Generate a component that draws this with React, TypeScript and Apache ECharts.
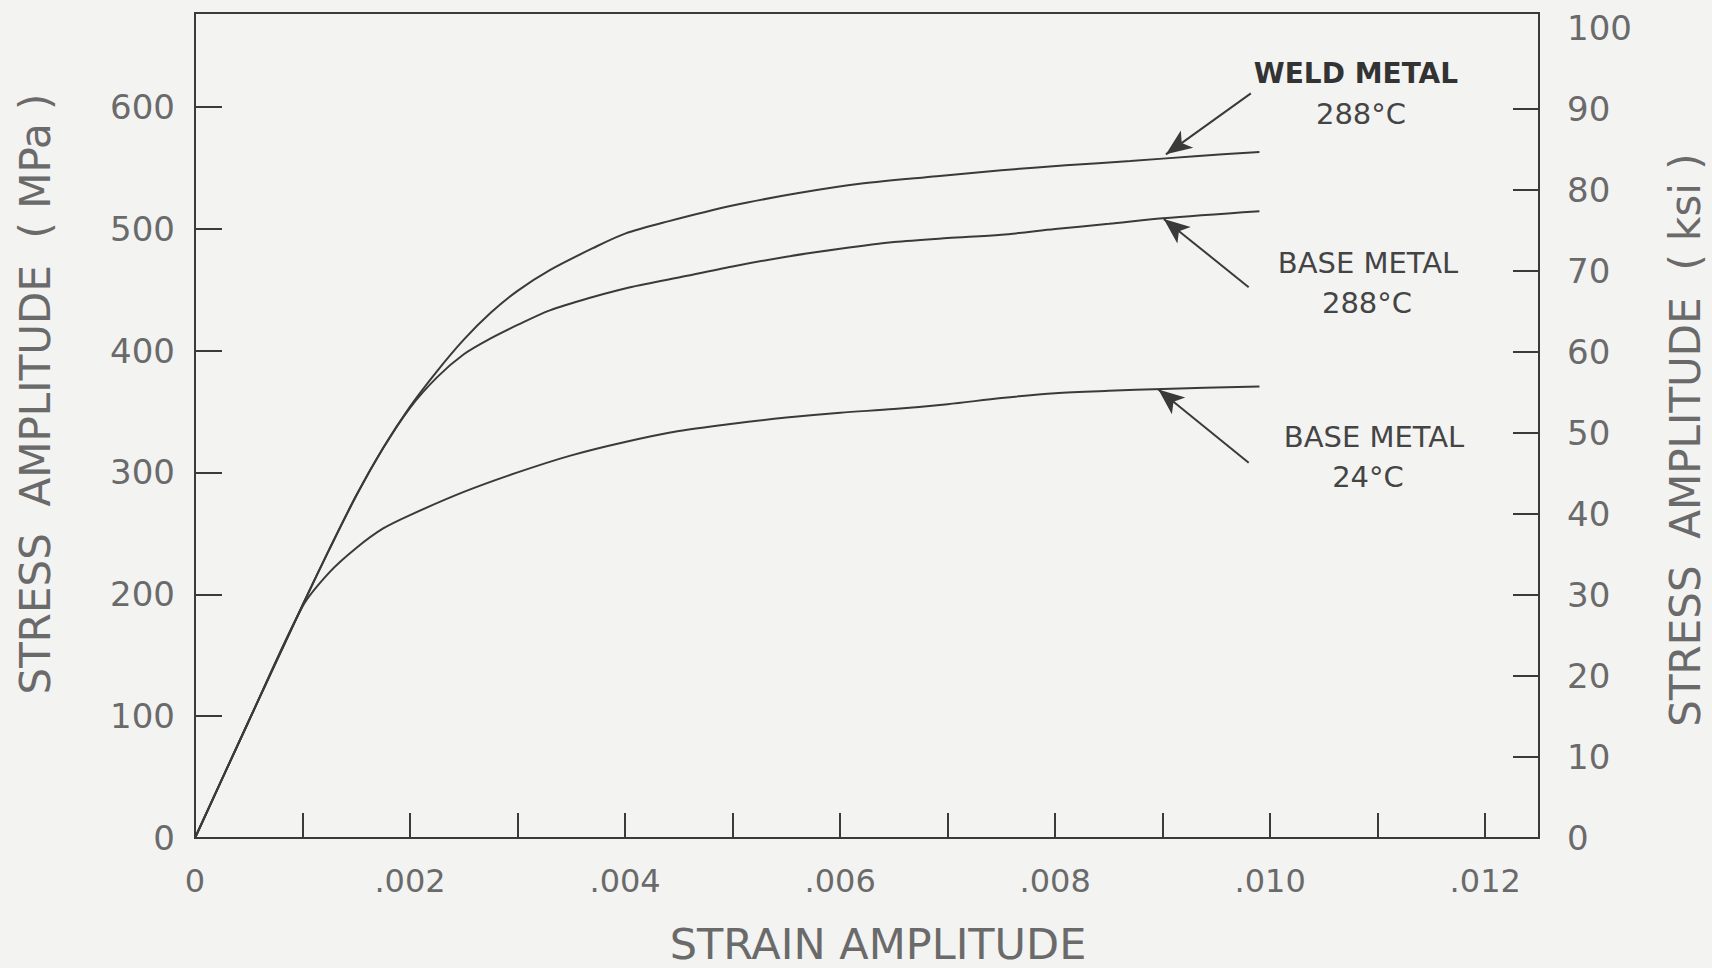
import React, { useEffect, useRef } from "react";
import * as echarts from "echarts";

// [strain amplitude, stress amplitude (MPa)]
const weldMetal288: [number, number][] = [
  [0, 0], [0.0005, 96], [0.001, 191], [0.00125, 237], [0.0015, 281], [0.00175, 320],
  [0.002, 354], [0.00225, 383], [0.0025, 409], [0.00275, 431], [0.003, 449],
  [0.0033, 466], [0.0037, 484], [0.004, 496], [0.0044, 506], [0.005, 519],
  [0.0056, 529], [0.0062, 537], [0.0069, 543], [0.0075, 548], [0.0081, 552],
  [0.0087, 555.5], [0.0093, 559.5], [0.0099, 563],
];
const baseMetal288: [number, number][] = [
  [0, 0], [0.0005, 96], [0.001, 191], [0.00125, 237], [0.0015, 281], [0.00175, 320],
  [0.002, 353], [0.00225, 378], [0.0025, 397], [0.00275, 410], [0.003, 421],
  [0.0033, 433], [0.0037, 444], [0.004, 451], [0.0045, 460], [0.005, 469],
  [0.0055, 477], [0.006, 483.5], [0.0065, 489], [0.007, 492.3], [0.0075, 495],
  [0.008, 499.7], [0.0085, 504], [0.009, 508.6], [0.0099, 514.4],
];
const baseMetal24: [number, number][] = [
  [0, 0], [0.0005, 96], [0.001, 190], [0.00125, 218], [0.0015, 238], [0.00175, 254],
  [0.002, 265], [0.0025, 284], [0.003, 300], [0.0035, 314], [0.004, 325],
  [0.0045, 334], [0.005, 340], [0.0055, 345], [0.006, 349], [0.0065, 352],
  [0.007, 356], [0.0075, 361], [0.008, 365], [0.0085, 367], [0.009, 368.5],
  [0.0099, 370.5],
];

// annotation arrows: [tail, tip] in data coordinates
const weldArrow: [number, number][] = [[0.00982, 611], [0.00903, 561]];
const base288Arrow: [number, number][] = [[0.0098, 452], [0.00901, 508]];
const base24Arrow: [number, number][] = [[0.0098, 308], [0.00896, 368]];

const xTickValues = [0.001, 0.002, 0.003, 0.004, 0.005, 0.006, 0.007, 0.008, 0.009, 0.01, 0.011, 0.012];
const xLabelValues = [0, 0.002, 0.004, 0.006, 0.008, 0.01, 0.012];
const leftTickValues = [100, 200, 300, 400, 500, 600];
const leftLabelValues = [0, 100, 200, 300, 400, 500, 600];
const rightTickValues = [10, 20, 30, 40, 50, 60, 70, 80, 90];
const rightLabelValues = [0, 10, 20, 30, 40, 50, 60, 70, 80, 90, 100];

const FONT = "DejaVu Sans";
const INK = "#3a3a3a";
const TEXT = "#6a6a6a";

export default function App() {
  const ref = useRef<HTMLDivElement>(null);

  useEffect(() => {
    if (!ref.current) return;
    const chart = echarts.init(ref.current, null, { renderer: "svg" });

    const lineSeries = (name: string, data: [number, number][]) => ({
      name,
      type: "line",
      data,
      showSymbol: false,
      smooth: 0.3,
      lineStyle: { color: INK, width: 2 },
      silent: true,
    });

    const arrow = (a: [number, number][]) => [
      { coord: a[0], symbol: "none" },
      { coord: a[1], symbol: "arrow" },
    ];

    const weld = lineSeries("WELD METAL 288°C", weldMetal288) as any;
    weld.markLine = {
      silent: true,
      animation: false,
      symbolSize: [16, 26],
      lineStyle: { color: INK, width: 2, type: "solid" },
      label: { show: false },
      data: [arrow(weldArrow), arrow(base288Arrow), arrow(base24Arrow)],
    };

    const label = (text: string, x: number, y: number, size: number, color: string, weight: any = "normal") => ({
      type: "text",
      x,
      y,
      silent: true,
      style: {
        text,
        fill: color,
        font: `${weight} ${size}px "${FONT}"`,
        align: "center",
        verticalAlign: "middle",
      },
    });

    const rotated = (text: string, x: number, y: number, size: number) => ({
      type: "text",
      x,
      y,
      rotation: Math.PI / 2,
      silent: true,
      style: {
        text,
        fill: TEXT,
        font: `normal ${size}px "${FONT}"`,
        align: "center",
        verticalAlign: "middle",
      },
    });

    chart.setOption({
      animation: false,
      backgroundColor: "#f3f3f2",
      grid: {
        left: 195,
        right: 173,
        top: 13,
        bottom: 130,
        show: true,
        borderColor: INK,
        borderWidth: 2,
        backgroundColor: "transparent",
      },
      xAxis: {
        type: "value",
        min: 0,
        max: 0.0125,
        splitLine: { show: false },
        axisLine: { lineStyle: { color: INK, width: 2 } },
        axisTick: { inside: true, length: 25, customValues: xTickValues, lineStyle: { color: INK, width: 2 } },
        axisLabel: {
          customValues: xLabelValues,
          formatter: (v: number) => {
            const k = Math.round(v * 1000);
            return k === 0 ? "0" : "." + String(k).padStart(3, "0");
          },
          fontFamily: FONT,
          fontSize: 32,
          color: TEXT,
          margin: 27,
        },
      },
      yAxis: [
        {
          type: "value",
          position: "left",
          min: 0,
          max: 677,
          splitLine: { show: false },
          axisLine: { show: true, lineStyle: { color: INK, width: 2 } },
          axisTick: { show: true, inside: true, length: 27, customValues: leftTickValues, lineStyle: { color: INK, width: 2 } },
          axisLabel: {
            customValues: leftLabelValues,
            fontFamily: FONT,
            fontSize: 34,
            color: TEXT,
            margin: 20,
          },
        },
        {
          type: "value",
          position: "right",
          min: 0,
          max: 101.85,
          splitLine: { show: false },
          axisLine: { show: true, lineStyle: { color: INK, width: 2 } },
          axisTick: { show: true, inside: true, length: 26, customValues: rightTickValues, lineStyle: { color: INK, width: 2 } },
          axisLabel: {
            customValues: rightLabelValues,
            fontFamily: FONT,
            fontSize: 34,
            color: TEXT,
            margin: 28,
          },
        },
      ],
      series: [
        weld,
        lineSeries("BASE METAL 288°C", baseMetal288),
        lineSeries("BASE METAL 24°C", baseMetal24),
      ],
      graphic: [
        rotated("STRESS  AMPLITUDE  ( MPa )", 35, 394, 42),
        rotated("STRESS  AMPLITUDE  ( ksi )", 1685, 440, 42),
        label("STRAIN AMPLITUDE", 878, 944, 43, TEXT),
        label("WELD METAL", 1356, 73, 28, "#333", "bold"),
        label("288°C", 1361, 114, 29, "#444"),
        label("BASE METAL", 1368, 263, 29, "#444"),
        label("288°C", 1367, 303, 29, "#444"),
        label("BASE METAL", 1374, 437, 29, "#444"),
        label("24°C", 1368, 477, 29, "#444"),
      ],
    });

    return () => chart.dispose();
  }, []);

  return (
    <div
      ref={ref}
      style={{ position: "fixed", left: 0, top: 0, width: 1712, height: 968 }}
    />
  );
}
